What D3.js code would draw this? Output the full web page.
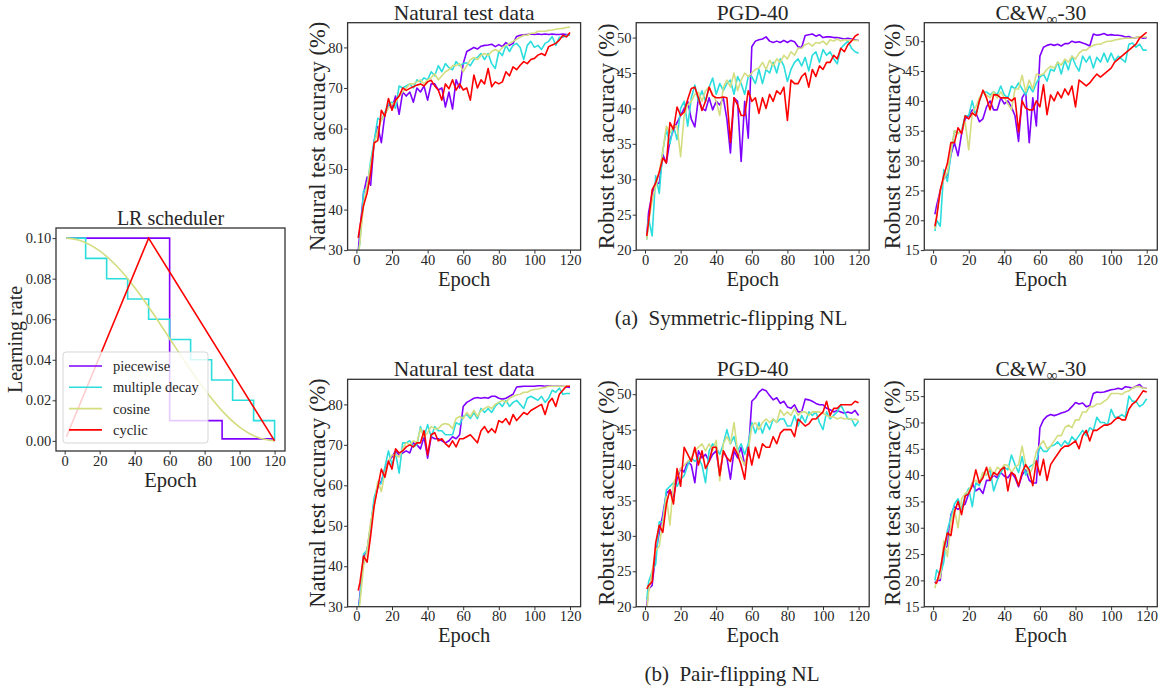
<!DOCTYPE html>
<html><head><meta charset="utf-8">
<script src="https://cdn.jsdelivr.net/npm/d3@7"></script>
<style>
body{margin:0;background:#fff;}
svg text{font-family:"Liberation Serif","Times New Roman",serif;fill:#262626;}
</style></head><body>
<svg id="chart" width="1162" height="688"></svg>
<script>
// ---------- DATA ----------
const epochs = [1,2,4,6,8,10,12,14,16,18,20,22,24,26,28,30,32,34,36,38,40,42,44,46,48,50,52,54,56,58,60,62,64,66,68,70,72,74,76,78,80,82,84,86,88,90,92,94,96,98,100,102,104,106,108,110,112,114,116,118,120];
const seriesNames = ["piecewise","multiple decay","cosine","cyclic"];
const seriesColors = ["#8000ff","#2bdddd","#d4dd80","#ff0000"];

// LR scheduler
const lrPiecewiseEpochs = [1,60,90,120];
const lrPiecewise = [0.1,0.01,0.001,0.001];
const lrMultipleEpochs = [1,12,24,36,48,60,72,84,96,108,120];
const lrMultiple = [0.1,0.09,0.08,0.07,0.06,0.05,0.04,0.03,0.02,0.01,0];
const lrCosineEpochs = [1,10,20,30,40,50,60,70,80,90,100,110,120];
const lrCosine = [0.1,0.0985,0.0937,0.086,0.0757,0.0636,0.0505,0.0375,0.0253,0.0148,0.0068,0.0018,0];
const lrCyclicEpochs = [1,48,120];
const lrCyclic = [0.002,0.1,0];
const lrTicks = [0,0.02,0.04,0.06,0.08,0.10];
const epochTicks = [0,20,40,60,80,100,120];

// (a) Symmetric-flipping NL
const natSymPiecewise = [29.5,
 35,44,48,46,57,60.5,56.5,63.5,66,65,
 68,63.5,69,68,69,66.5,70,69,70.5,67,
 71,71,69.5,70,65.3,69,64.8,72,70,76,
 79,79.5,80,79.6,80.3,80.5,80.6,80.8,80.2,80.7,
 80.2,81.2,80.5,81,82.7,83,83.1,83.2,83.3,83.2,
 83.3,83.2,83.3,83.2,83.3,83.2,83.2,83.3,83.2,83.2];
const natSymMultiple = [29,
 32,44.5,45.5,52,57,62.5,62,64,66,66.5,
 65,70.5,70,70.5,71,70,72,71.5,72.5,72,
 74,73,75.5,74,76,75,74.5,76.5,75.5,76,
 76.2,75.5,77,77.5,78.5,77,78.5,76,74.8,79,
 78,80.5,79,80.5,81,80,77,80.5,81.5,80,
 80.5,79.5,81,81.5,82.7,80.5,82.5,82.5,83,83];
const natSymCosine = [28,
 32,41,46,51,56,59.5,62,63.5,65,66,
 66.5,68,69,70,71,71,71.5,72,71,72,
 72.5,73.5,72,73,74,74.5,75.5,75.5,76,74,
 75.5,77,77.5,77,78,78.5,78,79,79.5,79,
 80,80.5,81,81.5,82,82.5,83,83,83.5,83.5,
 84,84,84,84.2,84.3,84.5,84.6,84.7,84.9,85];
const natSymCyclic = [33,
 36,41,44,49,56.5,57,64.5,63,67.4,64.5,
 67,68,70,69.4,69.9,70.3,70.7,71,70.5,71.5,
 71.9,70.5,69.5,67,71,69.8,72,69.5,71,69.5,
 70,67,73.2,70,72,71,74.8,70.3,71.5,71,
 71.5,74,73,75.2,74.5,75.6,76.5,76,77,77.3,
 78.1,78.5,78,80.2,80.6,81,81.8,83,82.6,83.7];

const pgdSymPiecewise = [22,
 25.3,28,29.5,29.4,33.5,32.3,35.5,37,38,39,
 40,41,38.5,37.4,41.5,40,39.7,41.5,39.8,41,
 40.5,41.5,38.5,33.7,41.5,41,32.5,41,35.8,48.7,
 49.5,49.7,49.8,50.1,49.5,49.3,49.5,49.3,49.6,49.3,
 49.6,49.4,48.7,48.6,50.3,50.4,50.5,50.2,50.4,50,
 50.1,50.1,50,50,49.9,49.8,49.9,49.8,49.7,49.6];
const pgdSymMultiple = [21.5,
 24.5,22,30.5,28,34,37,35,37.5,35.6,40,
 41,37.5,41.5,43.3,41,42.5,41,43,44.3,42,
 43.5,42.5,43.5,44,42,44.5,43.5,42,44.5,44.5,
 43.5,45.5,43.5,45.5,45,46.5,45,47,46,43.8,
 45.5,46.5,47,46,47.2,45.3,47.5,48,46.5,48.3,
 47.5,48,47,46.3,48.5,49,49.5,48.5,48,47.8];
const pgdSymCosine = [21.5,
 24,27,29,31,34,37.5,36.5,37.5,37.5,33.2,
 39,40.5,41,42,42.3,41,42.5,43,42,41,
 39,43,44,43,45,42.5,44,45,44.5,45,
 45.5,45.7,46.5,45.5,46.8,46,47,46.5,47.5,47,
 48,47.5,48.5,48.5,49,49.2,48.8,49.3,49.2,49.5,
 49,49.7,49.5,49.8,49.5,49.7,49.6,49.7,49.6,49.6];
const pgdSymCyclic = [22,
 24,28.5,29.5,31,33,32.3,38,37,40.2,39,
 39.5,41.3,42.8,43,41.5,39.7,41,43,41.8,41.5,
 41.5,41.6,41.5,35.2,41.5,40.5,39,39,42.5,41,
 41.5,39.3,41.5,40,42,41,42.5,42,43,38.3,
 44,43.5,43.5,44.5,45,43,45.5,44.5,46,45.5,
 46.5,46.5,47.5,47,48.5,48,49,49.5,50.2,50.5];

const cwSymPiecewise = [21,
 22.5,25,27,27.5,31,33,30.8,34.5,37,37.5,
 38.5,38,36.5,37,39,40,38.5,38.5,40.5,39.5,
 40,39,37.5,33.2,40.5,41.5,33,40.5,35.8,47.5,
 49,49.3,49.5,49.3,49.5,49.2,49.6,49.6,50,49.8,
 49.9,49.7,49.5,49.2,51.2,51,51.1,51.3,51,51.1,
 51,51,50.9,50.7,50.8,50.5,50.6,50.7,50.5,50.6];
const cwSymMultiple = [18.2,
 20,19,28.5,26.5,31,35,34.5,35,37.5,37.5,
 40,37.5,40,41.5,41.5,41,41.5,41,42.5,41,
 40.5,42.5,42,43,42,41,42.5,41.5,43,44,
 44.5,43.3,45.3,45,46.5,44.5,46.8,45.2,47.5,46,
 45,47.5,46.5,47.5,45.5,47.3,46.5,48,46.5,48,
 46.7,47.5,47,46.5,49.5,49.7,49,49.5,48.5,48.5];
const cwSymCosine = [18.5,
 21,25,27,28,31.5,35,34.5,35,36.5,31.8,
 38,39,40.5,41.5,41,40.5,41.5,40.5,41.5,40.5,
 39.5,38.5,42,42,44.3,41.5,43.5,42,44.5,44.3,
 44.5,45.3,45.8,45.5,46.5,46,47,46.5,47.5,47,
 48,48.5,48.5,49,49.3,49.5,49.5,49.8,50,50,
 50.2,50.3,50.4,50.5,50.5,50.5,50.6,50.8,50.7,50.7];
const cwSymCyclic = [19,
 20.5,25,27.5,29.5,33,33,35.5,34.5,37.5,37,
 38,37.5,40,41.8,40.5,38.5,41,41,40.5,40.5,
 40.5,40,40.5,34.8,40,38.8,38.5,38.5,40,39,
 42.7,37.7,41,40,41.5,40.5,42,41,42.5,39,
 43.5,43,42.5,43,43.8,44.5,44,44.5,45,45.5,
 46.5,47,47.5,48,48.5,49,49.5,50.5,51,51.5];

// (b) Pair-flipping NL
const natPairPiecewise = [29,
 33,42,44,50,56,59.5,61,64,66,67,
 68.5,67.5,68,68.5,68,70.5,70,69,72,66.7,
 72,71.5,71.5,71,70.5,71,72,71.5,72.5,79.5,
 80.5,81,81.5,81.7,81.5,81.7,81.5,82,82,81.5,
 81.3,81.5,82,82.5,84.3,84.4,84.5,84.5,84.5,84.5,
 84.6,84.6,84.5,84.6,84.5,84.5,84.5,84.5,84.3,84.2];
const natPairMultiple = [29,
 32,43,44,50,57,60,60.5,64.5,68.5,65,
 68,63,70.5,70.5,71,69.5,70,74.5,72,75,
 72,74.5,73.5,73.5,72.5,72.5,72.5,75.5,75,77,
 77.5,76.5,78,76.5,79,78,79,78,79.5,80.5,
 79.5,81,79.5,80.5,81,80,79,81.5,82,81.5,
 81,82,80.5,81.5,83.5,83,84,82.5,82.7,82.7];
const natPairCosine = [28,
 31,40,44,51,55,61,58.5,63,66,67.5,
 67.5,67,69,70.5,70,71,70.5,74,72,73,
 74.5,74,74,75,75.3,75,74,76.5,77,76.5,
 78,77,78.5,77,78.5,79,79.5,79,80,80.5,
 81,80.5,81.5,82,82.3,82.5,83,83,83.5,83.7,
 83.8,84,84.2,84.5,84.5,84.5,84.5,84.5,84.5,84.5];
const natPairCyclic = [34,
 36,42.5,41,47.5,55,59.5,64,62,66,64,
 69,68,68.5,69.5,70,69.5,70.5,70.5,73.5,67.5,
 72.5,73,71,71.5,70.3,69.5,71,69.5,71.5,71.5,
 72,72.5,71.5,70.5,73.5,74.5,73,74,73,76,
 75.5,76.5,75,77.5,76,77,78,77.5,78.5,79,
 79.5,80,77.5,80.5,81.5,79.5,82.5,83.5,84.5,84.5];

const pgdPairPiecewise = [20,
 22.5,23,27.5,30.5,33,36,36.5,35.5,38,39.5,
 39,40.5,40,37.5,42,41,41.5,40.5,41.5,42,
 38.5,42,41,38,42,41,42.5,40,41.5,49,
 49.5,50.3,50.7,50.5,49.8,49.2,49.5,48.7,49,48.2,
 48,48.5,47.5,47.5,49.3,49.2,49,48.7,48.5,48.5,
 48,47.8,47.5,47.7,47.5,47.3,47.5,47.3,47.7,47];
const pgdPairMultiple = [21,
 23.5,25,26,32,32,36.5,37,37.5,37,38,
 38.5,40,41,40.5,41,40,37.5,42,43,42.5,
 41.5,43,45,43,44,42,43,41.5,43,46,
 44.5,46,44.5,46,45,46.5,46,46.5,46.5,45.5,
 45.5,47,45.5,47,46,47.5,47,47.5,46,45,
 47.5,46.5,47,47.5,48.5,47.5,46.5,46.5,45.5,46.2];
const pgdPairCosine = [19.5,
 22,25,28,28.5,32,35.5,31.5,37.5,38.5,39.5,
 40,40.5,41,42,42.5,43,42,43,42,43.5,
 37.8,43,44,43,46,42,41,40,42,45.5,
 46,45,46,46.5,46,46.5,46,47.8,47,47.5,
 47,48,47,47.5,47.5,47,47.5,47.5,47.5,47.3,
 47,46.8,46.8,46.5,46.7,46.5,46.6,46.4,46.5,46.3];
const pgdPairCyclic = [22.5,
 23,23.5,29,31.5,30.5,34.5,36.5,34.5,39.5,37,
 42.5,41.5,40.5,42.5,40,42,39.5,40.5,42.5,42.5,
 38.5,42,41,40.5,42.5,41.5,40,38,42.5,40,
 42.5,41,43,42.5,42.5,44,43,44.5,45,45,
 45,44,46.5,46,45.5,45.8,46.5,46.5,47,47.5,
 49,47,48,48,48.5,48.5,48.5,48.5,49,48.8];

const cwPairPiecewise = [19.5,
 20,20,26,26.5,32.5,34,33.5,34,34.5,36.5,
 38.5,37,37.5,36.5,39,39,40,39.5,40.5,39.8,
 39.5,40.5,39.5,37.8,40,41,39,38.5,38.5,49,
 50.5,51.2,51.5,51.3,51.5,51.8,52,52.3,53,53.8,
 53.5,53.7,53,53.2,55.5,55.8,55.7,55.8,56,56.2,
 56.3,56.5,56.3,56.8,56.7,56.5,56.9,57.2,56.5,56.5];
const cwPairMultiple = [20,
 22,21,23.5,29.5,32,34.5,35.5,33.5,36,37.5,
 34,38.5,38,40.5,40,41,37,39,40.5,41.5,
 41,43.8,42,40.5,43.5,40,41.5,42,42.5,45.5,
 44.5,44.5,45.5,45.7,46.3,45.5,46.5,45.8,47.3,46.5,
 47.5,48.5,47.5,49,48.5,51,50,50,49.5,52.5,
 51,51,51.5,51,55,54,54,53,53.5,54.5];
const cwPairCosine = [18.5,
 20,20.5,27.5,24.5,31,33.5,30,35.5,36.5,37,
 38.5,39,38.5,40.5,40,41.5,40,41.5,41,42,
 41.8,40.5,41.5,42,45.5,42,40,41.5,44.5,45.7,
 46.5,45,45.5,46.5,47.5,47.5,49,49.5,49,50.5,
 50.5,52,52,53,53,53.5,53.5,54,54.5,55.5,
 55.5,55.5,55.3,55.8,56,56.5,56.8,56.8,56.5,56.5];
const cwPairCyclic = [19.5,
 19.5,22,26,29,28.5,33,35,32.5,36,36.5,
 38,41,38.5,39.5,41.5,39,40.5,40,41,41.5,
 37,40.5,40,38,40.5,42,41,38,42.7,40,
 43,39,42,43,44,45,45.5,45.5,46,46.5,
 45,47.5,48.5,46.5,48.5,48.5,49,49.5,49.5,49.8,
 50.5,51,50.5,50.5,52.5,53.5,54,55,56,55.8];

const natTicks = [30,40,50,60,70,80];
const pgdTicks = [20,25,30,35,40,45,50];
const cwSymTicks = [15,20,25,30,35,40,45,50];
const cwPairTicks = [15,20,25,30,35,40,45,50,55];

// ---------- LAYOUT ----------
const svg = d3.select("#chart");
const xDom = [-4.95, 125.95];
const cols = [347.6, 636.2, 924.3];
const rows = [22.7, 379.3];
const PW = 233, PH = 227.4;

const panels = [
  {col:0,row:0,title:"Natural test data",ylab:"Natural test accuracy (%)",ydom:[30,86.1],ticks:natTicks,data:[natSymPiecewise,natSymMultiple,natSymCosine,natSymCyclic]},
  {col:1,row:0,title:"PGD-40",ylab:"Robust test accuracy (%)",ydom:[20,52.1],ticks:pgdTicks,data:[pgdSymPiecewise,pgdSymMultiple,pgdSymCosine,pgdSymCyclic]},
  {col:2,row:0,title:"CW",ylab:"Robust test accuracy (%)",ydom:[15,53.1],ticks:cwSymTicks,data:[cwSymPiecewise,cwSymMultiple,cwSymCosine,cwSymCyclic]},
  {col:0,row:1,title:"Natural test data",ylab:"Natural test accuracy (%)",ydom:[30,86.2],ticks:natTicks,data:[natPairPiecewise,natPairMultiple,natPairCosine,natPairCyclic]},
  {col:1,row:1,title:"PGD-40",ylab:"Robust test accuracy (%)",ydom:[20,52.1],ticks:pgdTicks,data:[pgdPairPiecewise,pgdPairMultiple,pgdPairCosine,pgdPairCyclic]},
  {col:2,row:1,title:"CW",ylab:"Robust test accuracy (%)",ydom:[15,58.2],ticks:cwPairTicks,data:[cwPairPiecewise,cwPairMultiple,cwPairCosine,cwPairCyclic]}
];

let clipId = 0;
function frame(g, x, y, w, h, xTicks, yTicks, yFmt) {
  const ax = g.append("g").attr("transform", `translate(0,${h})`)
    .call(d3.axisBottom(x).tickValues(xTicks).tickSize(3.5).tickPadding(0.8));
  const ay = g.append("g")
    .call(d3.axisLeft(y).tickValues(yTicks).tickSize(3.5).tickPadding(1.3).tickFormat(yFmt || d3.format("d")));
  [ax, ay].forEach(a => {
    a.select(".domain").remove();
    a.selectAll(".tick line").attr("stroke", "#333").attr("stroke-width", 1);
    a.selectAll(".tick text").attr("font-size", 14.5).attr("font-family", "Liberation Serif").attr("fill", "#262626");
  });
}
function clip(g, w, h) {
  const id = "clip" + (clipId++);
  g.append("clipPath").attr("id", id).append("rect").attr("width", w).attr("height", h);
  return g.append("g").attr("clip-path", `url(#${id})`);
}
function boxAndLabels(g, w, h, title, ylab, ylabOffset, titleSize, ylabSize) {
  g.append("rect").attr("width", w).attr("height", h).attr("fill", "none")
    .attr("stroke", "#333").attr("stroke-width", 1.3);
  const t = g.append("text").attr("x", w / 2).attr("y", -3).attr("text-anchor", "middle").attr("font-size", titleSize);
  if (title === "CW") {
    t.append("tspan").text("C&W");
    t.append("tspan").text("∞").attr("font-size", 15).attr("dy", 4);
    t.append("tspan").text("-30").attr("dy", -4);
  } else t.text(title);
  g.append("text").attr("x", w / 2).attr("y", h + 35.5).attr("text-anchor", "middle").attr("font-size", 20.5).text("Epoch");
  g.append("text").attr("transform", `translate(${ylabOffset},${h / 2}) rotate(-90)`)
    .attr("text-anchor", "middle").attr("dominant-baseline", "central").attr("font-size", ylabSize).text(ylab);
}

panels.forEach(p => {
  const g = svg.append("g").attr("transform", `translate(${cols[p.col]},${rows[p.row]})`);
  const x = d3.scaleLinear().domain(xDom).range([0, PW]);
  const y = d3.scaleLinear().domain(p.ydom).range([PH, 0]);
  const cg = clip(g, PW, PH);
  const line = d3.line().x((d, i) => x(epochs[i])).y(d => y(d));
  p.data.forEach((s, k) => {
    cg.append("path").datum(s).attr("d", line).attr("fill", "none")
      .attr("stroke", seriesColors[k]).attr("stroke-width", 1.6).attr("stroke-linejoin", "round");
  });
  frame(g, x, y, PW, PH, epochTicks, p.ticks);
  boxAndLabels(g, PW, PH, p.title, p.ylab, p.col === 2 ? -31.5 : -30, 21.5, 22.5);
});

// LR scheduler panel
(function () {
  const L = 56, T = 228, W = 229, H = 223;
  const g = svg.append("g").attr("transform", `translate(${L},${T})`);
  const x = d3.scaleLinear().domain(xDom).range([0, W]);
  const y = d3.scaleLinear().domain([-0.005, 0.105]).range([H, 0]);
  const cg = clip(g, W, H);
  const sets = [
    [lrPiecewiseEpochs, lrPiecewise, d3.curveStepAfter],
    [lrMultipleEpochs, lrMultiple, d3.curveStepAfter],
    [lrCosineEpochs, lrCosine, d3.curveMonotoneX],
    [lrCyclicEpochs, lrCyclic, d3.curveLinear]
  ];
  sets.forEach(([ex, vals, curve], k) => {
    const line = d3.line().x((d, i) => x(ex[i])).y(d => y(d)).curve(curve);
    cg.append("path").datum(vals).attr("d", line).attr("fill", "none")
      .attr("stroke", seriesColors[k]).attr("stroke-width", 1.6);
  });
  frame(g, x, y, W, H, epochTicks, lrTicks, d3.format(".2f"));
  boxAndLabels(g, W, H, "LR scheduler", "Learning rate", -41, 20, 20);
  // legend
  const lg = g.append("g").attr("transform", "translate(7,124)");
  lg.append("rect").attr("width", 145).attr("height", 91).attr("rx", 3)
    .attr("fill", "#fff").attr("fill-opacity", 0.8).attr("stroke", "#ccc").attr("stroke-opacity", 0.8);
  seriesNames.forEach((n, i) => {
    const yy = 14 + i * 21.3;
    lg.append("line").attr("x1", 6).attr("x2", 39).attr("y1", yy).attr("y2", yy)
      .attr("stroke", seriesColors[i]).attr("stroke-width", 1.6);
    lg.append("text").attr("x", 50).attr("y", yy).attr("dominant-baseline", "central")
      .attr("font-size", 14.5).text(n);
  });
})();

// captions
svg.append("text").attr("x", 731).attr("y", 325).attr("text-anchor", "middle").attr("font-size", 21)
  .style("white-space", "pre").text("(a)  Symmetric-flipping NL");
svg.append("text").attr("x", 732).attr("y", 681).attr("text-anchor", "middle").attr("font-size", 21)
  .style("white-space", "pre").text("(b)  Pair-flipping NL");
</script>
</body></html>
